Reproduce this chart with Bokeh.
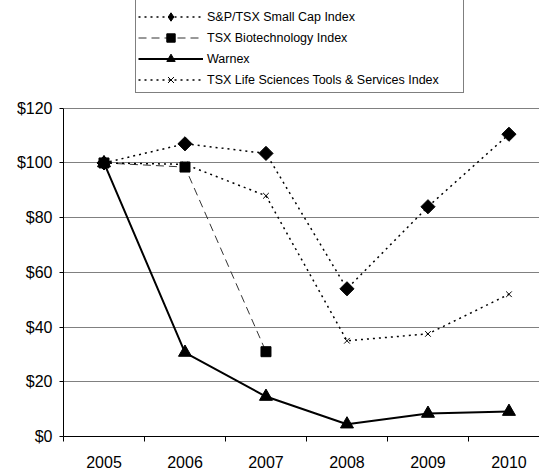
from bokeh.plotting import figure
from bokeh.models import Legend, LegendItem, FixedTicker, PrintfTickFormatter, Range1d
from bokeh.embed import file_html
from bokeh.resources import INLINE

years = ["2005", "2006", "2007", "2008", "2009", "2010"]
small_cap = [100, 107, 103.5, 54, 84, 110.5]
biotech = [100, 98.5, 31]
warnex = [100, 30.7, 14.6, 4.5, 8.4, 9.1]
life_sci = [100, 99.5, 88, 35, 37.5, 52]
y_ticks = [0, 20, 40, 60, 80, 100, 120]

xs = list(range(len(years)))
FONT = "Liberation Sans"

p = figure(width=539, height=470, output_backend="svg", toolbar_location=None,
           x_range=Range1d(-0.5, 5.377), y_range=Range1d(0, 159.39),
           min_border_left=63, min_border_right=0, min_border_top=0, min_border_bottom=33)
p.outline_line_color = None
p.background_fill_color = "white"

# series
r1l = p.line(xs, small_cap, line_color="black", line_width=1.5, line_dash="2 4")
r1m = p.scatter(xs, small_cap, marker="square", angle=0.785398, size=10, color="black")
# diamond key for the legend (hidden in the plot, the rotated squares are shown instead)
r1k = p.scatter(xs, small_cap, marker="diamond", size=11, color="black", visible=False)
bx = xs[:len(biotech)]
r2l = p.line(bx, biotech, line_color="#333333", line_width=1, line_dash="8 5")
r2m = p.scatter(bx, biotech, marker="square", size=10, color="black")
r3l = p.line(xs, warnex, line_color="black", line_width=2)
r3m = p.scatter(xs, warnex, marker="triangle", size=13, color="black")
r4l = p.line(xs, life_sci, line_color="black", line_width=1.5, line_dash="2 4")
r4m = p.scatter(xs, life_sci, marker="x", size=8, line_color="black", line_width=1)

# axes
xa = p.xaxis[0]
xa.ticker = FixedTicker(ticks=xs, minor_ticks=[i - 0.5 for i in range(len(years) + 1)])
xa.major_label_overrides = {i: y for i, y in enumerate(years)}
xa.major_tick_out = 0
xa.major_tick_in = 0
xa.minor_tick_out = 5
xa.minor_tick_in = 0
xa.minor_tick_line_color = "black"
xa.axis_line_color = "black"
xa.major_label_standoff = 14
xa.major_label_text_font = FONT
xa.major_label_text_font_size = "16px"
xa.major_label_text_color = "black"

ya = p.yaxis[0]
ya.ticker = FixedTicker(ticks=y_ticks)
ya.formatter = PrintfTickFormatter(format="$%d")
ya.bounds = (0, 120)
ya.major_tick_out = 4
ya.major_tick_in = 0
ya.minor_tick_out = 0
ya.minor_tick_in = 0
ya.axis_line_color = "black"
ya.major_tick_line_color = "black"
ya.major_label_standoff = 7
ya.major_label_text_font = FONT
ya.major_label_text_font_size = "16px"
ya.major_label_text_color = "black"

p.xgrid.visible = False
p.ygrid.ticker = FixedTicker(ticks=y_ticks)
p.ygrid.grid_line_color = "#808080"
p.ygrid.grid_line_width = 1

legend = Legend(items=[
    LegendItem(label="S&P/TSX Small Cap Index", renderers=[r1l, r1k]),
    LegendItem(label="TSX Biotechnology Index", renderers=[r2l, r2m]),
    LegendItem(label="Warnex", renderers=[r3l, r3m]),
    LegendItem(label="TSX Life Sciences Tools & Services Index", renderers=[r4l, r4m]),
], location=(72, 343))
legend.title = " "
legend.title_text_font_size = "1px"
legend.title_standoff = 3
legend.border_line_color = "black"
legend.border_line_width = 1
legend.background_fill_color = "white"
legend.background_fill_alpha = 1
legend.label_text_font = FONT
legend.label_text_font_size = "12.5px"
legend.label_text_color = "black"
legend.glyph_width = 65
legend.glyph_height = 21
legend.label_height = 21
legend.label_standoff = 4
legend.label_width = 254
legend.spacing = 0
legend.padding = 2
legend.margin = 0
p.add_layout(legend, "center")

open("out.html", "w").write(file_html(p, INLINE))
